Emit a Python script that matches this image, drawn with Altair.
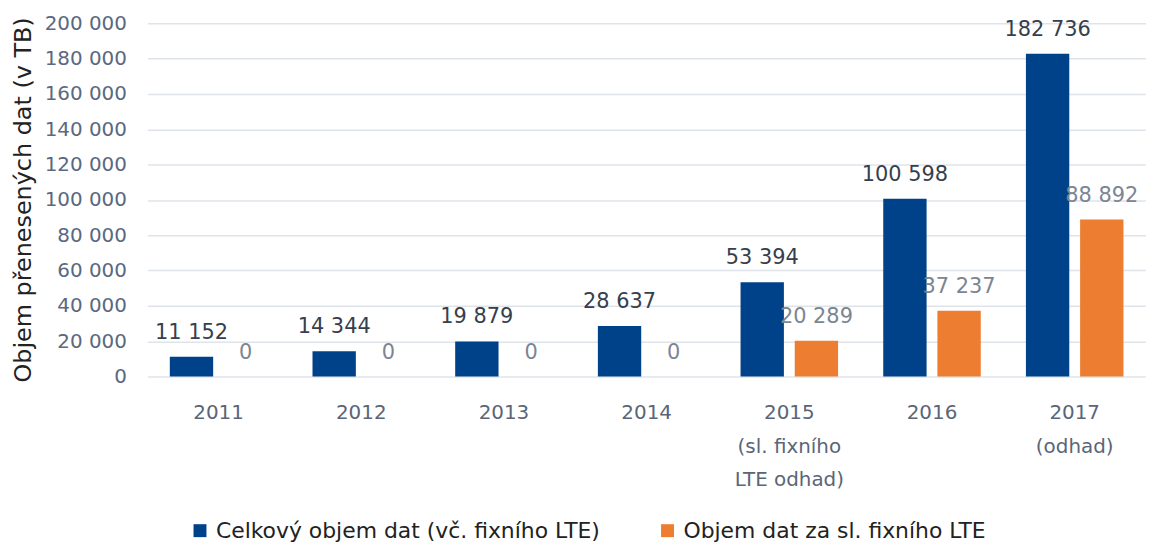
import altair as alt
import pandas as pd

years = ["2011", "2012", "2013", "2014", "2015|(sl. fixního|LTE odhad)", "2016", "2017|(odhad)"]
total = [11152, 14344, 19879, 28637, 53394, 100598, 182736]
fixed_lte = [0, 0, 0, 0, 20289, 37237, 88892]
series = ["Celkový objem dat (vč. fixního LTE)", "Objem dat za sl. fixního LTE"]
colors = ["#00428A", "#ED7D31"]
label_colors = ["#363F4E", "#7C8592"]
y_ticks = list(range(0, 200001, 20000))

rows = []
for yr, a, b in zip(years, total, fixed_lte):
    rows.append(dict(year=yr, series=series[0], value=a))
    rows.append(dict(year=yr, series=series[1], value=b))
df = pd.DataFrame(rows)
df["label"] = df["value"].map(lambda v: f"{v:,}".replace(",", " "))

FONT = "DejaVu Sans"

x_enc = alt.X(
    "year:N",
    sort=years,
    scale=alt.Scale(paddingInner=0.3165, paddingOuter=0.158),
    axis=alt.Axis(
        title=None,
        labelExpr="split(datum.label, '|')",
        labelAngle=0,
        ticks=False,
        domain=False,
        labelPadding=26,
        labelFontSize=20,
        labelColor="#5A6577",
        labelLineHeight=34,
        labelFont=FONT,
    ),
)
xoff = alt.XOffset("series:N", sort=series, scale=alt.Scale(paddingInner=0.2, paddingOuter=0))

y_axis = alt.Axis(
    values=y_ticks,
    title="Objem přenesených dat (v TB)",
    titleFontSize=24,
    titleFont=FONT,
    titleFontWeight="normal",
    titleColor="#222222",
    titleAngle=-90,
    titleX=-124,
    titleY=177,
    titleAlign="center",
    titleBaseline="middle",
    labelExpr="replace(format(datum.value, ','), regexp(',', 'g'), ' ')",
    labelFontSize=20,
    labelColor="#5A6880",
    labelFont=FONT,
    labelPadding=21,
    labelOverlap=False,
    labelBound=False,
    ticks=False,
    domain=False,
    grid=True,
    gridColor="#DFE3EA",
    gridWidth=1.5,
)
y_scale = alt.Scale(domain=[0, 200000], nice=False)

bars = alt.Chart(df).mark_bar().encode(
    x=x_enc,
    xOffset=xoff,
    y=alt.Y("value:Q", scale=y_scale, axis=y_axis),
    color=alt.Color(
        "series:N",
        sort=series,
        scale=alt.Scale(domain=series, range=colors),
        legend=alt.Legend(
            title=None,
            orient="none",
            legendX=42,
            legendY=499,
            direction="horizontal",
            symbolType="square",
            symbolSize=169,
            symbolStrokeWidth=0,
            symbolOpacity=1,
            labelFontSize=22,
            labelFont=FONT,
            labelColor="#222222",
            labelOffset=5,
            columnPadding=56,
            labelLimit=600,
        ),
    ),
)

texts = alt.Chart(df).mark_text(baseline="bottom", dy=-14, font=FONT).encode(
    x=x_enc,
    xOffset=xoff,
    y=alt.Y("value:Q", scale=y_scale, axis=y_axis),
    text="label:N",
    color=alt.condition(
        alt.datum.series == series[0], alt.value(label_colors[0]), alt.value(label_colors[1])
    ),
    size=alt.value(21),
)

chart = (
    alt.layer(bars, texts)
    .properties(
        width=1004,
        height=355,
        autosize=alt.AutoSizeParams(type="none"),
        padding={"left": 140, "top": 14, "right": 0, "bottom": 170},
    )
    .configure_view(stroke=None)
)

chart.save("out.html", embed_options={"renderer": "svg", "actions": False})
